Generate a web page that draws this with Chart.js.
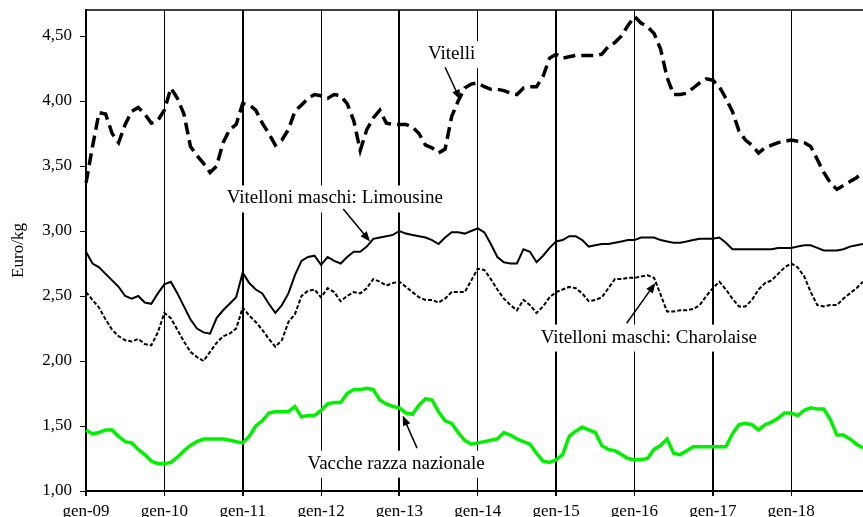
<!DOCTYPE html>
<html>
<head>
<meta charset="utf-8">
<script src="https://cdn.jsdelivr.net/npm/chart.js@4/dist/chart.umd.min.js"></script>
<style>
  body { margin: 0; background: #fff; }
  #wrap { width: 863px; height: 517px; position: relative; }
</style>
</head>
<body>
<div id="wrap"><canvas id="prezzi"></canvas></div>
<script>
// months Jan 2009 - Dec 2018
var years = ['09', '10', '11', '12', '13', '14', '15', '16', '17', '18'];
var months = ['gen', 'feb', 'mar', 'apr', 'mag', 'giu', 'lug', 'ago', 'set', 'ott', 'nov', 'dic'];
var yTicks = [1.0, 1.5, 2.0, 2.5, 3.0, 3.5, 4.0, 4.5];

var vitelli = [
  3.37, 3.65, 3.91, 3.90, 3.75, 3.68, 3.82, 3.92, 3.95, 3.90, 3.83, 3.85,
  3.93, 4.10, 4.02, 3.90, 3.65, 3.58, 3.52, 3.45, 3.50, 3.68, 3.78, 3.82,
  3.98, 3.97, 3.93, 3.83, 3.75, 3.66, 3.70, 3.78, 3.92, 3.97, 4.02, 4.05,
  4.04, 4.02, 4.05, 4.04, 3.98, 3.85, 3.62, 3.78, 3.87, 3.93, 3.83, 3.82,
  3.82, 3.82, 3.80, 3.75, 3.66, 3.64, 3.60, 3.63, 3.88, 4.00, 4.10, 4.13,
  4.14, 4.11, 4.09, 4.09, 4.08, 4.06, 4.05, 4.10, 4.11, 4.11, 4.19, 4.33,
  4.36, 4.33, 4.34, 4.35, 4.35, 4.35, 4.35, 4.36, 4.42, 4.45, 4.50, 4.58,
  4.65, 4.60, 4.57, 4.52, 4.40, 4.18, 4.05, 4.05, 4.06, 4.10, 4.14, 4.17,
  4.16, 4.11, 4.02, 3.92, 3.77, 3.70, 3.66, 3.60, 3.64, 3.66, 3.68, 3.69,
  3.70, 3.69, 3.68, 3.65, 3.55, 3.45, 3.37, 3.32, 3.35, 3.38, 3.41, 3.45
];
var limousine = [
  2.84, 2.75, 2.72, 2.67, 2.62, 2.57, 2.50, 2.48, 2.50, 2.45, 2.44, 2.52,
  2.59, 2.61, 2.52, 2.42, 2.32, 2.25, 2.22, 2.21, 2.33, 2.39, 2.44, 2.49,
  2.68, 2.60, 2.55, 2.52, 2.44, 2.37, 2.43, 2.52, 2.66, 2.77, 2.80, 2.81,
  2.74, 2.80, 2.77, 2.75, 2.80, 2.84, 2.84, 2.88, 2.94, 2.95, 2.96, 2.97,
  3.00, 2.98, 2.97, 2.96, 2.95, 2.93, 2.90, 2.95, 2.99, 2.99, 2.98, 3.00,
  3.02, 2.99, 2.90, 2.80, 2.76, 2.75, 2.75, 2.86, 2.84, 2.76, 2.81, 2.87,
  2.92, 2.93, 2.96, 2.96, 2.93, 2.88, 2.89, 2.90, 2.90, 2.91, 2.92, 2.93,
  2.93, 2.95, 2.95, 2.95, 2.93, 2.92, 2.91, 2.91, 2.92, 2.93, 2.94, 2.94,
  2.94, 2.95, 2.91, 2.86, 2.86, 2.86, 2.86, 2.86, 2.86, 2.86, 2.87, 2.87,
  2.87, 2.88, 2.89, 2.89, 2.87, 2.85, 2.85, 2.85, 2.86, 2.88, 2.89, 2.90
];
var charolaise = [
  2.53, 2.47, 2.41, 2.32, 2.24, 2.19, 2.16, 2.15, 2.17, 2.13, 2.12, 2.22,
  2.37, 2.33, 2.24, 2.15, 2.07, 2.03, 2.00, 2.07, 2.14, 2.19, 2.21, 2.25,
  2.41, 2.35, 2.30, 2.24, 2.17, 2.11, 2.16, 2.30, 2.36, 2.50, 2.54, 2.55,
  2.49, 2.56, 2.53, 2.46, 2.50, 2.53, 2.52, 2.56, 2.63, 2.61, 2.58, 2.60,
  2.61, 2.57, 2.53, 2.49, 2.47, 2.47, 2.45, 2.48, 2.53, 2.53, 2.53, 2.62,
  2.71, 2.70, 2.63, 2.55, 2.48, 2.43, 2.39, 2.47, 2.43, 2.37, 2.42, 2.49,
  2.53, 2.55, 2.57, 2.56, 2.52, 2.46, 2.47, 2.49, 2.56, 2.63, 2.63, 2.64,
  2.64, 2.65, 2.66, 2.64, 2.51, 2.38, 2.38, 2.39, 2.39, 2.40, 2.43, 2.50,
  2.56, 2.61, 2.55, 2.48, 2.42, 2.42, 2.47, 2.55, 2.60, 2.62, 2.67, 2.72,
  2.75, 2.72, 2.65, 2.53, 2.43, 2.42, 2.43, 2.43, 2.48, 2.52, 2.56, 2.61
];
var vacche = [
  1.47, 1.44, 1.45, 1.47, 1.47, 1.42, 1.38, 1.37, 1.32, 1.28, 1.23, 1.21,
  1.21, 1.22, 1.26, 1.31, 1.35, 1.38, 1.40, 1.40, 1.40, 1.40, 1.39, 1.38,
  1.37, 1.42, 1.50, 1.54, 1.60, 1.61, 1.61, 1.61, 1.65, 1.57, 1.58, 1.58,
  1.62, 1.67, 1.68, 1.68, 1.75, 1.78, 1.78, 1.79, 1.78, 1.70, 1.67, 1.65,
  1.64, 1.60, 1.59, 1.66, 1.71, 1.70, 1.61, 1.54, 1.52, 1.45, 1.39, 1.36,
  1.37, 1.38, 1.39, 1.40, 1.45, 1.43, 1.40, 1.38, 1.36, 1.29, 1.23, 1.22,
  1.24, 1.28, 1.42, 1.46, 1.49, 1.47, 1.45, 1.35, 1.32, 1.31, 1.28, 1.25,
  1.24, 1.24, 1.25, 1.32, 1.35, 1.40, 1.29, 1.28, 1.31, 1.34, 1.34, 1.34,
  1.34, 1.34, 1.34, 1.44, 1.51, 1.52, 1.51, 1.47, 1.51, 1.53, 1.56, 1.60,
  1.60, 1.58, 1.62, 1.64, 1.63, 1.63, 1.55, 1.43, 1.43, 1.40, 1.36, 1.33
];

var labels = [];
years.forEach(function (y) {
  months.forEach(function (m) { labels.push(m + '-' + y); });
});

// callouts: text centre, arrow start, arrow tip (month index, value)
var notes = [
  { text: 'Vitelli', at: [56, 4.36], from: [55, 4.26], to: [57.3, 4.01] },
  { text: 'Vitelloni maschi: Limousine', at: [38.1, 3.25], from: [39.4, 3.17], to: [43.5, 2.92] },
  { text: 'Vitelloni maschi: Charolaise', at: [86.2, 2.18], from: [82.8, 2.29], to: [87.2, 2.60] },
  { text: 'Vacche razza nazionale', at: [47.5, 1.21], from: [50.7, 1.33], to: [48.5, 1.58] }
];

var serif = "'Liberation Serif', 'Times New Roman', serif";

var callouts = {
  id: 'callouts',
  beforeDatasetsDraw: function (chart) {
    var ctx = chart.ctx, xs = chart.scales.x, ys = chart.scales.y, a = chart.chartArea;
    ctx.save();
    // top frame line
    ctx.strokeStyle = '#000';
    ctx.lineWidth = 1.5;
    ctx.beginPath();
    ctx.moveTo(a.left, a.top);
    ctx.lineTo(a.right, a.top);
    ctx.stroke();

    ctx.font = '19px ' + serif;
    ctx.textAlign = 'center';
    ctx.textBaseline = 'middle';
    notes.forEach(function (n) {
      var cx = xs.getPixelForValue(n.at[0]), cy = ys.getPixelForValue(n.at[1]);
      var w = ctx.measureText(n.text).width;
      ctx.fillStyle = '#fff';
      ctx.fillRect(cx - w / 2 - 3, cy - 13, w + 6, 27);
      ctx.fillStyle = '#000';
      ctx.fillText(n.text, cx, cy);

      var x1 = xs.getPixelForValue(n.from[0]), y1 = ys.getPixelForValue(n.from[1]);
      var x2 = xs.getPixelForValue(n.to[0]), y2 = ys.getPixelForValue(n.to[1]);
      var ang = Math.atan2(y2 - y1, x2 - x1);
      ctx.strokeStyle = '#000';
      ctx.lineWidth = 1.5;
      ctx.beginPath();
      ctx.moveTo(x1, y1);
      ctx.lineTo(x2 - 6 * Math.cos(ang), y2 - 6 * Math.sin(ang));
      ctx.stroke();
      ctx.beginPath();
      ctx.moveTo(x2, y2);
      ctx.lineTo(x2 - 10 * Math.cos(ang) + 4 * Math.sin(ang), y2 - 10 * Math.sin(ang) - 4 * Math.cos(ang));
      ctx.lineTo(x2 - 10 * Math.cos(ang) - 4 * Math.sin(ang), y2 - 10 * Math.sin(ang) + 4 * Math.cos(ang));
      ctx.closePath();
      ctx.fillStyle = '#000';
      ctx.fill();
    });
    ctx.restore();
  }
};

var chart = new Chart(document.getElementById('prezzi'), {
  type: 'line',
  data: {
    labels: labels,
    datasets: [{
      label: 'Vitelli',
      data: vitelli,
      borderColor: '#000',
      borderWidth: 3.5,
      borderDash: [12, 6],
      pointRadius: 0,
      tension: 0
    }, {
      label: 'Vitelloni maschi: Limousine',
      data: limousine,
      borderColor: '#000',
      borderWidth: 2,
      pointRadius: 0,
      tension: 0
    }, {
      label: 'Vitelloni maschi: Charolaise',
      data: charolaise,
      borderColor: '#000',
      borderWidth: 2,
      borderDash: [4, 2],
      pointRadius: 0,
      tension: 0
    }, {
      label: 'Vacche razza nazionale',
      data: vacche,
      borderColor: '#00f000',
      borderWidth: 3.5,
      pointRadius: 0,
      tension: 0
    }]
  },
  options: {
    responsive: true,
    maintainAspectRatio: false,
    animation: false,
    layout: { padding: { top: 10, right: 0, left: 0, bottom: 0 } },
    plugins: {
      legend: { display: false },
      tooltip: { enabled: false }
    },
    scales: {
      x: {
        type: 'category',
        offset: false,
        border: { color: '#000', width: 2 },
        grid: {
          color: function (c) { return c.index % 12 === 0 ? '#000' : 'rgba(0,0,0,0)'; },
          lineWidth: function (c) { return (c.index / 12) % 2 === 0 ? 2 : 1; },
          tickLength: 5,
          drawOnChartArea: true
        },
        ticks: {
          autoSkip: false,
          maxRotation: 0,
          minRotation: 0,
          padding: 5,
          color: '#000',
          font: { family: serif, size: 17 },
          callback: function (v, i) { return i % 12 === 0 ? labels[i] : ''; }
        },
        afterFit: function (s) {
          s.height = 26;
          s.paddingLeft = 0;
          s.paddingRight = 0;
        }
      },
      y: {
        min: 1,
        max: 4.7,
        border: { color: '#000', width: 2 },
        grid: { drawOnChartArea: false, tickLength: 6, color: '#000' },
        afterBuildTicks: function (s) {
          s.ticks = yTicks.map(function (v) { return { value: v }; });
        },
        ticks: {
          padding: 8,
          color: '#000',
          font: { family: serif, size: 17 },
          callback: function (v) { return v.toFixed(2).replace('.', ','); }
        },
        title: {
          display: true,
          text: 'Euro/kg',
          color: '#000',
          font: { family: serif, size: 17 },
          padding: { top: 8, bottom: 0 }
        },
        afterFit: function (s) {
          s.width = 86;
          s.paddingTop = 0;
          s.paddingBottom = 0;
        }
      }
    }
  },
  plugins: [callouts]
});
</script>
</body>
</html>
